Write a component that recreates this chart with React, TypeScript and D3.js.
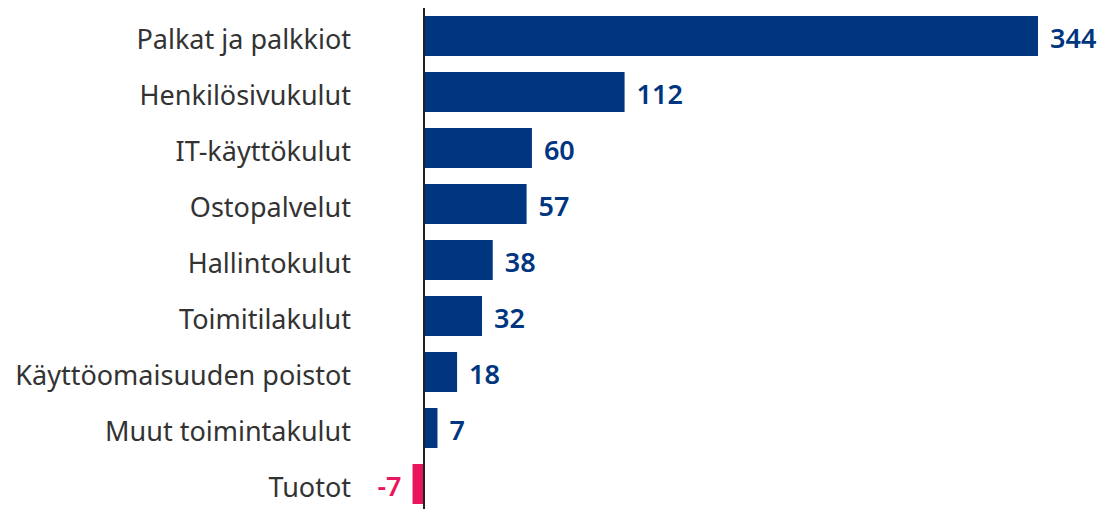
import React from "react";
import * as d3 from "d3";

const categories = [
  "Palkat ja palkkiot",
  "Henkilösivukulut",
  "IT-käyttökulut",
  "Ostopalvelut",
  "Hallintokulut",
  "Toimitilakulut",
  "Käyttöomaisuuden poistot",
  "Muut toimintakulut",
  "Tuotot",
];
const values = [344, 112, 60, 57, 38, 32, 18, 7, -7];

const W = 1105;
const H = 509;
const NAVY = "#003580";
const PINK = "#e8175d";

export default function App() {
  const x = d3.scaleLinear().domain([0, 344]).range([425, 1038]);
  const y = d3
    .scaleBand<string>()
    .domain(categories)
    .range([8, 8 + 56 * 9])
    .paddingInner(16 / 56)
    .paddingOuter(8 / 56);
  const font = "'Noto Sans', 'Open Sans', sans-serif";
  return (
    <svg
      width={W}
      height={H}
      style={{ position: "absolute", left: 0, top: 0, display: "block" }}
    >
      <rect width={W} height={H} fill="#fff" />
      {categories.map((c, i) => {
        const v = values[i];
        const neg = v < 0;
        const x0 = x(Math.min(0, v));
        const x1 = x(Math.max(0, v));
        const yc = (y(c) as number) + y.bandwidth() / 2;
        return (
          <g key={c}>
            <rect
              x={x0}
              y={y(c)}
              width={x1 - x0}
              height={y.bandwidth()}
              fill={neg ? PINK : NAVY}
            />
            <text
              x={351}
              y={yc + 13}
              textAnchor="end"
              fontFamily={font}
              fontSize={27}
              fill="#333"
            >
              {c}
            </text>
            <text
              x={neg ? x0 - 11 : x1 + 12}
              y={yc + 12}
              textAnchor={neg ? "end" : "start"}
              fontFamily={font}
              fontSize={27}
              fontWeight={600}
              fill={neg ? PINK : NAVY}
            >
              {v}
            </text>
          </g>
        );
      })}
      <line x1={424} x2={424} y1={8} y2={H} stroke="#222" strokeWidth={2} />
    </svg>
  );
}
